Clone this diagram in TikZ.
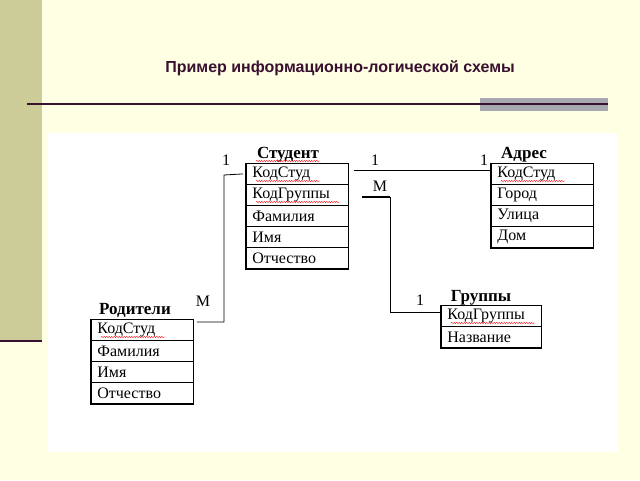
\documentclass[tikz,border=0pt]{standalone}
\usepackage{fontspec}
\setmainfont{Liberation Serif}
\newfontfamily\arialf{Liberation Sans}
\usetikzlibrary{decorations.pathmorphing}
\definecolor{bgy}{HTML}{FFFFE3}
\definecolor{olive}{HTML}{CCCC99}
\definecolor{plum}{HTML}{3A1030}
\definecolor{grayb}{HTML}{A8A8B0}
\tikzset{
 row/.style={draw, line width=0.8pt, minimum height=21pt, text width=90pt, inner xsep=6pt, inner ysep=0pt, anchor=north west, font=\fontsize{16}{16}\selectfont, align=left},
 ttl/.style={font=\bfseries\fontsize{17}{17}\selectfont, anchor=base},
 lbl/.style={font=\fontsize{16}{16}\selectfont, anchor=base},
 conn/.style={line width=0.8pt},
 wavy/.style={red, line width=0.4pt, decorate, decoration={snake, amplitude=0.6pt, segment length=2.5pt}}
}
\begin{document}
\begin{tikzpicture}[x=1pt,y=-1pt]
\useasboundingbox (0,0) rectangle (640,480);
\fill[bgy] (0,0) rectangle (640,480);
\fill[olive] (0,0) rectangle (42,340);
\draw[plum, line width=1.2pt] (0,341) -- (42,341);
\fill[white] (48,133) rectangle (618,452);
\fill[grayb] (480,98) rectangle (608,111);
\draw[plum, line width=1.2pt] (27,104) -- (608,104);
\node[font=\arialf\bfseries\fontsize{16}{17}\selectfont, text=plum] (title) at (340,68) {Пример информационно-логической схемы};

% Студент
\node[ttl] (st) at (288,158) {Студент};
\node[row] (s1) at (246,163) {КодСтуд};
\node[row] (s2) at (246,184) {КодГруппы};
\node[row] (s3) at (246,205) {Фамилия};
\node[row] (s4) at (246,226) {Имя};
\node[row] (s5) at (246,247) {Отчество};
\draw[line width=1.6pt] (s1.north west) -- (s5.south west) -- (s5.south east);

% Адрес
\node[ttl] (ad) at (524,158) {Адрес};
\node[row] (a1) at (491,163) {КодСтуд};
\node[row] (a2) at (491,184) {Город};
\node[row] (a3) at (491,205) {Улица};
\node[row] (a4) at (491,226) {Дом};
\draw[line width=1.6pt] (a1.north west) -- (a4.south west) -- (a4.south east);

% Группы
\node[ttl] (gr) at (481,301) {Группы};
\node[row, text width=88pt] (g1) at (441,305) {КодГруппы};
\node[row, text width=88pt] (g2) at (441,326) {Название};
\draw[line width=1.6pt] (g1.north west) -- (g2.south west) -- (g2.south east);

% Родители
\node[ttl] (ro) at (135,314) {Родители};
\node[row] (r1) at (91,319) {КодСтуд};
\node[row] (r2) at (91,340) {Фамилия};
\node[row] (r3) at (91,361) {Имя};
\node[row] (r4) at (91,382) {Отчество};
\draw[line width=1.6pt] (r1.north west) -- (r4.south west) -- (r4.south east);

% wavy underlines
\draw[wavy] (256,161) -- (320,161);
\draw[wavy] (256,181) -- (320,181);
\draw[wavy] (256,202) -- (339,202);
\draw[wavy] (501,181) -- (565,181);
\draw[wavy] (451,323) -- (535,323);
\draw[wavy] (101,337) -- (165,337);

% connectors
\coordinate (c1) at (224,175);
\coordinate (c2) at (224,322);
\draw[conn] ([xshift=-3pt]s1.west) -- (c1) -- (c2) -- ([xshift=3pt]r1.north east |- c2);
\coordinate (c3) at (354,170);
\draw[conn] (c3) -- (a1.west |- c3);
\coordinate (c4) at (362,197);
\coordinate (c5) at (390,197);
\coordinate (c6) at (390,312);
\draw[conn] (c4) -- (c5) -- (c6) -- (g1.west |- c6);
\draw[line width=1.5pt] (c4) -- (c5);

\node[lbl] (l1) at (226,165) {1};
\node[lbl] (l2) at (203,306) {М};
\node[lbl] (l3) at (375,165) {1};
\node[lbl] (l4) at (484,165) {1};
\node[lbl] (l5) at (380,191) {М};
\node[lbl] (l6) at (420,305) {1};
\end{tikzpicture}
\end{document}
